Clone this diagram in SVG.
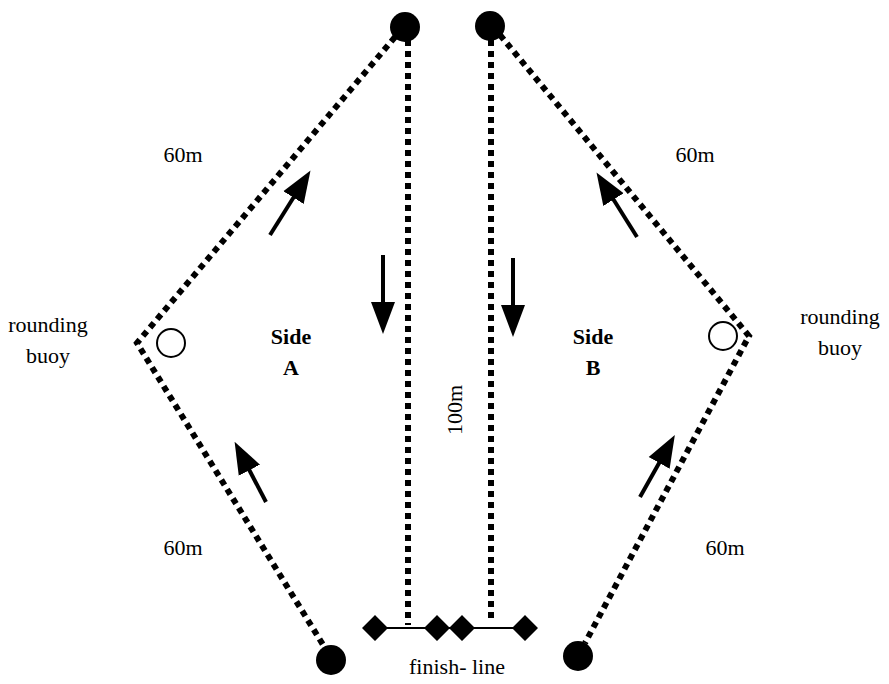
<svg xmlns="http://www.w3.org/2000/svg" width="889" height="684" viewBox="0 0 889 684">
<style>
.d{fill:none;stroke:#000;stroke-width:6;stroke-dasharray:6 5}
.a{stroke:#000;stroke-width:4;fill:none;marker-end:url(#ah)}
text{font-family:"Liberation Serif",serif;font-size:22px;fill:#000;text-anchor:middle}
.b{font-weight:bold}
</style>
<defs><marker id="ah" markerWidth="8" markerHeight="8" refX="4" refY="3" orient="auto" markerUnits="strokeWidth" viewBox="0 0 8 6"><path d="M0,0 L8,3 L0,6 Z" fill="#000"/></marker></defs>
<rect width="889" height="684" fill="#fff"/>
<g id="connectors">
<polyline class="d" points="395,37 137,343 325,648"/>
<polyline class="d" points="500,35 749,336 585,643"/>
<line class="d" x1="408" y1="40" x2="408" y2="625"/>
<line class="d" x1="491" y1="40" x2="491" y2="620"/>
<line x1="375" y1="628" x2="525" y2="628" stroke="#000" stroke-width="2"/>
<line class="a" x1="270" y1="235" x2="302" y2="184"/>
<line class="a" x1="383" y1="255" x2="383" y2="318"/>
<line class="a" x1="513" y1="258" x2="513" y2="321"/>
<line class="a" x1="637" y1="237" x2="605" y2="186"/>
<line class="a" x1="266" y1="502" x2="242" y2="456"/>
<line class="a" x1="640" y1="497" x2="667" y2="449"/>
</g>
<g id="markL1"><circle cx="405" cy="27" r="15"/></g>
<g id="markR1"><circle cx="490" cy="26" r="15"/></g>
<g id="markL2"><circle cx="331" cy="660" r="15"/></g>
<g id="markR2"><circle cx="578" cy="656" r="15"/></g>
<g id="buoyL"><circle cx="171" cy="343" r="14" fill="#fff" stroke="#000" stroke-width="2"/><text x="48" y="332">rounding</text><text x="48" y="363">buoy</text></g>
<g id="buoyR"><circle cx="723" cy="336" r="14" fill="#fff" stroke="#000" stroke-width="2"/><text x="840" y="324">rounding</text><text x="840" y="355">buoy</text></g>
<g id="finish">
<path d="M375,615 l13,13 -13,13 -13,-13Z M437,615 l13,13 -13,13 -13,-13Z M462,615 l13,13 -13,13 -13,-13Z M525,615 l13,13 -13,13 -13,-13Z"/>
<text x="457" y="674">finish- line</text>
</g>
<g id="labels">
<text x="183" y="162">60m</text>
<text x="695" y="162">60m</text>
<text x="183" y="555">60m</text>
<text x="725" y="555">60m</text>
<text class="b" x="291" y="344">Side</text><text class="b" x="291" y="375">A</text>
<text class="b" x="593" y="344">Side</text><text class="b" x="593" y="375">B</text>
<text transform="translate(462,410) rotate(-90)">100m</text>
</g>
</svg>
